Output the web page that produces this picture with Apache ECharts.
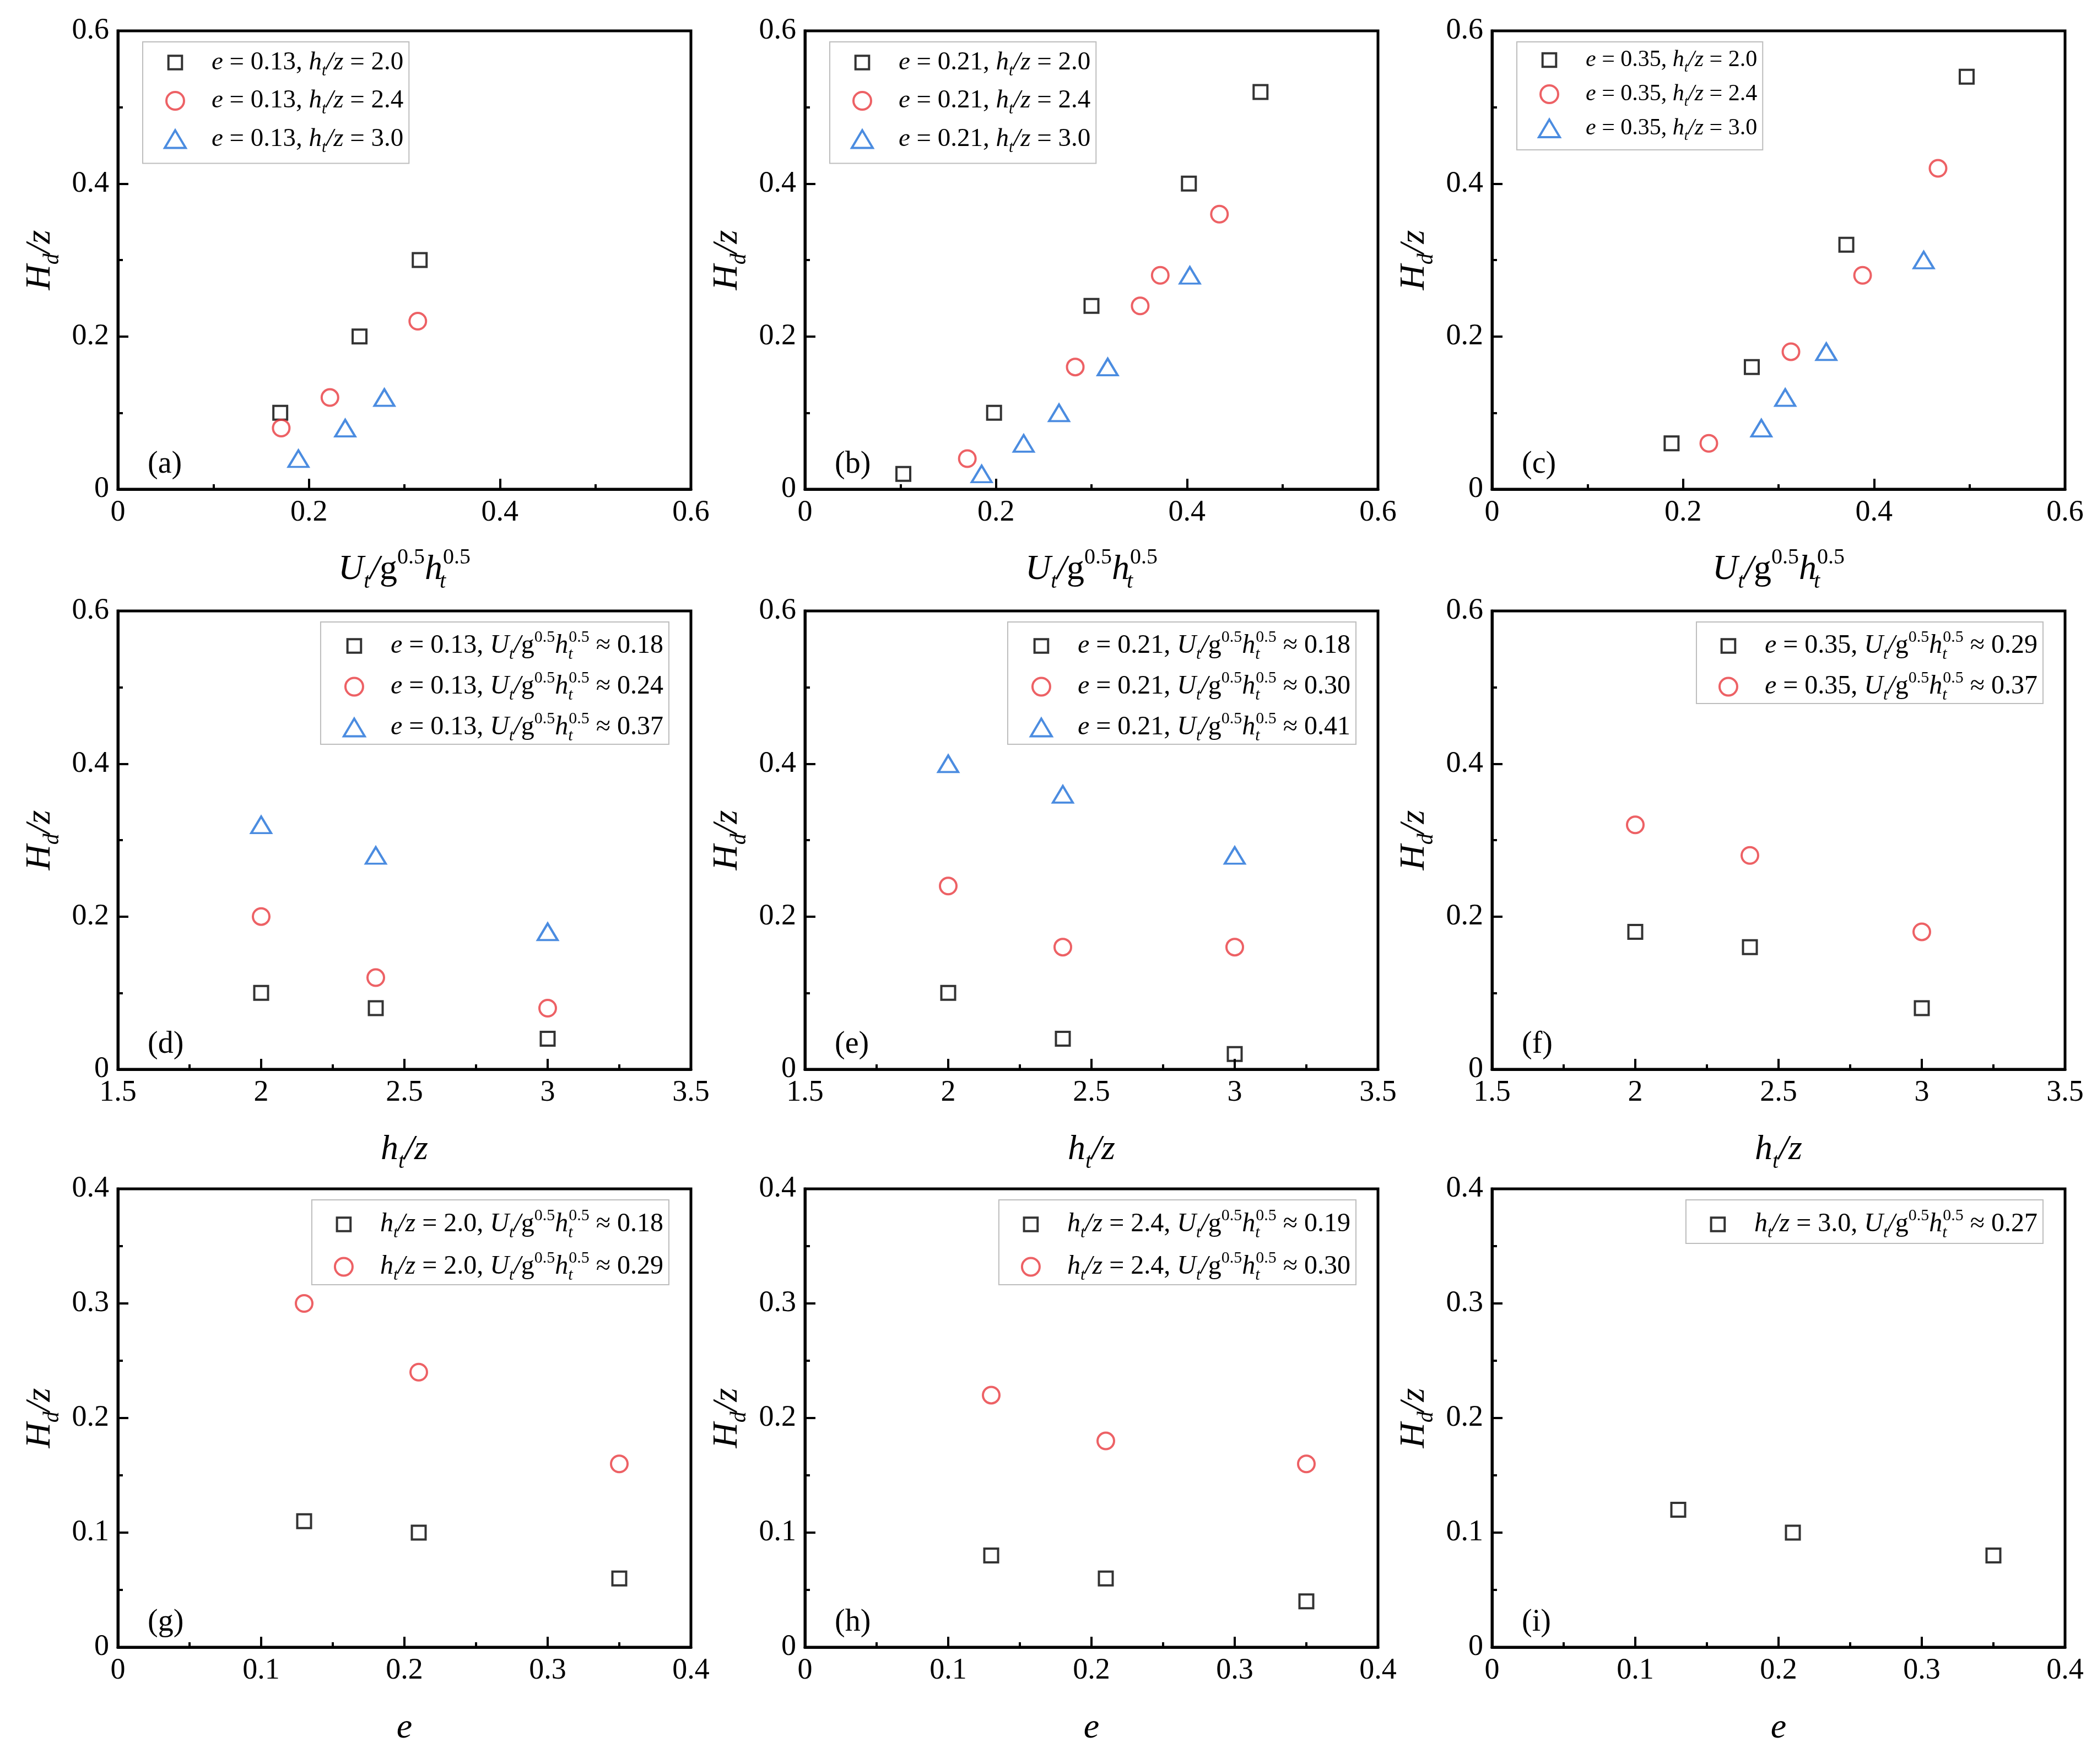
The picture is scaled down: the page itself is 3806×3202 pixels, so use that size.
<!DOCTYPE html>
<html>
<head>
<meta charset="utf-8">
<title>Hd/z panels</title>
<script src="https://cdn.jsdelivr.net/npm/echarts@6/dist/echarts.min.js"></script>
<style>
  html, body { margin: 0; padding: 0; background: #fff; }
  #main { width: 3806px; height: 3202px; }
</style>
</head>
<body>
<div id="main"></div>
<script>
var myChart = echarts.init(document.getElementById('main'));

// ---------- values ----------
// (a)-(c): x = Ut/g^0.5 ht^0.5, y = Hd/z
var aSquare   = [[0.170, 0.10], [0.253, 0.20], [0.316, 0.30]];
var aCircle   = [[0.171, 0.08], [0.222, 0.12], [0.314, 0.22]];
var aTriangle = [[0.189, 0.04], [0.238, 0.08], [0.279, 0.12]];

var bSquare   = [[0.103, 0.02], [0.198, 0.10], [0.300, 0.24], [0.402, 0.40], [0.477, 0.52]];
var bCircle   = [[0.170, 0.04], [0.283, 0.16], [0.351, 0.24], [0.372, 0.28], [0.434, 0.36]];
var bTriangle = [[0.185, 0.02], [0.229, 0.06], [0.266, 0.10], [0.317, 0.16], [0.403, 0.28]];

var cSquare   = [[0.188, 0.06], [0.272, 0.16], [0.371, 0.32], [0.497, 0.54]];
var cCircle   = [[0.227, 0.06], [0.313, 0.18], [0.388, 0.28], [0.467, 0.42]];
var cTriangle = [[0.282, 0.08], [0.307, 0.12], [0.350, 0.18], [0.452, 0.30]];

// (d)-(f): x = ht/z
var htz = [2.0, 2.4, 3.0];
var dSquare   = [0.10, 0.08, 0.04];
var dCircle   = [0.20, 0.12, 0.08];
var dTriangle = [0.32, 0.28, 0.18];
var eSquare   = [0.10, 0.04, 0.02];
var eCircle   = [0.24, 0.16, 0.16];
var eTriangle = [0.40, 0.36, 0.28];
var fSquare   = [0.18, 0.16, 0.08];
var fCircle   = [0.32, 0.28, 0.18];

// (g)-(i): x = e
var eVals = [0.13, 0.21, 0.35];
var gSquare = [0.11, 0.10, 0.06];
var gCircle = [0.30, 0.24, 0.16];
var hSquare = [0.08, 0.06, 0.04];
var hCircle = [0.22, 0.18, 0.16];
var iSquare = [0.12, 0.10, 0.08];

// legend / axis texts (rich markup: i = italic, s = subscript, k = stacked subscript, p = superscript)
var U = '{i|U}{s|t}{i|/}{n|g}{p|0.5}{i|h}{k|t}{p|0.5}';
var HT = '{i|h}{s|t}{i|/z}';
var namesA = ['{i|e} = 0.13, ' + HT + ' = 2.0', '{i|e} = 0.13, ' + HT + ' = 2.4', '{i|e} = 0.13, ' + HT + ' = 3.0'];
var namesB = ['{i|e} = 0.21, ' + HT + ' = 2.0', '{i|e} = 0.21, ' + HT + ' = 2.4', '{i|e} = 0.21, ' + HT + ' = 3.0'];
var namesC = ['{i|e} = 0.35, ' + HT + ' = 2.0', '{i|e} = 0.35, ' + HT + ' = 2.4', '{i|e} = 0.35, ' + HT + ' = 3.0'];
var namesD = ['{i|e} = 0.13, ' + U + ' ≈ 0.18', '{i|e} = 0.13, ' + U + ' ≈ 0.24', '{i|e} = 0.13, ' + U + ' ≈ 0.37'];
var namesE = ['{i|e} = 0.21, ' + U + ' ≈ 0.18', '{i|e} = 0.21, ' + U + ' ≈ 0.30', '{i|e} = 0.21, ' + U + ' ≈ 0.41'];
var namesF = ['{i|e} = 0.35, ' + U + ' ≈ 0.29', '{i|e} = 0.35, ' + U + ' ≈ 0.37'];
var namesG = [HT + ' = 2.0, ' + U + ' ≈ 0.18', HT + ' = 2.0, ' + U + ' ≈ 0.29'];
var namesH = [HT + ' = 2.4, ' + U + ' ≈ 0.19', HT + ' = 2.4, ' + U + ' ≈ 0.30'];
var namesI = [HT + ' = 3.0, ' + U + ' ≈ 0.27'];

function zip(xs, ys) {
    return xs.map(function (x, k) { return [x, ys[k]]; });
}

// ---------- layout ----------
var F = 'Liberation Serif';
var W = 3806;
var lefts = [214, 1461, 2708];
var tops = [56, 1109, 2158];
var gw = 1040, gh = 832;

var marks = [
    {symbol: 'rect', size: 25, color: '#000000', icon: 'path://M0,0M1.5,1.5L11.5,1.5L11.5,11.5L1.5,11.5ZM13,13'},
    {symbol: 'circle', size: 30, color: '#E8393E', icon: 'circle'},
    {symbol: 'triangle', size: [36, 30], color: '#1E6FD8', icon: 'triangle'}
];

var rows = [
    {xMin: 0, xMax: 0.6, xInt: 0.2, yMax: 0.6, yInt: 0.2, xName: U, nameGap: 104},
    {xMin: 1.5, xMax: 3.5, xInt: 0.5, yMax: 0.6, yInt: 0.2, xName: HT, nameGap: 104},
    {xMin: 0, xMax: 0.4, xInt: 0.1, yMax: 0.4, yInt: 0.1, xName: '{i|e}', nameGap: 105}
];

// legend box tuning per panel: padding, gap between rows
var legendBox = [
    {pad: [14, 10, 14, 38], gap: 16}, {pad: [14, 10, 14, 38], gap: 16}, {pad: [12, 10, 12, 38], gap: 14},
    {pad: [13, 10, 0, 40], gap: 13}, {pad: [13, 10, 0, 40], gap: 13}, {pad: [13, 10, 0, 40], gap: 13},
    {pad: [14, 10, 2, 40], gap: 16}, {pad: [14, 10, 2, 40], gap: 16}, {pad: [14, 10, 4, 40], gap: 16}
];

var panels = [
    {tag: '(a)', sets: [aSquare, aCircle, aTriangle], names: namesA, fs: 47},
    {tag: '(b)', sets: [bSquare, bCircle, bTriangle], names: namesB, fs: 47},
    {tag: '(c)', sets: [cSquare, cCircle, cTriangle], names: namesC, fs: 42},
    {tag: '(d)', sets: [zip(htz, dSquare), zip(htz, dCircle), zip(htz, dTriangle)], names: namesD, fs: 48},
    {tag: '(e)', sets: [zip(htz, eSquare), zip(htz, eCircle), zip(htz, eTriangle)], names: namesE, fs: 48},
    {tag: '(f)', sets: [zip(htz, fSquare), zip(htz, fCircle)], names: namesF, fs: 48},
    {tag: '(g)', sets: [zip(eVals, gSquare), zip(eVals, gCircle)], names: namesG, fs: 48},
    {tag: '(h)', sets: [zip(eVals, hSquare), zip(eVals, hCircle)], names: namesH, fs: 48},
    {tag: '(i)', sets: [zip(eVals, iSquare)], names: namesI, fs: 48}
];

function richSet(fs, lh) {
    var sm = Math.round(fs * 0.62);
    return {
        n: {fontFamily: F, fontSize: fs, lineHeight: lh, color: '#000'},
        i: {fontFamily: F, fontSize: fs, lineHeight: lh, fontStyle: 'italic', color: '#000'},
        s: {fontFamily: F, fontSize: sm, fontStyle: 'italic', verticalAlign: 'bottom', color: '#000'},
        k: {fontFamily: F, fontSize: sm, fontStyle: 'italic', verticalAlign: 'bottom', width: 1, color: '#000'},
        p: {fontFamily: F, fontSize: sm, verticalAlign: 'top', color: '#000'}
    };
}

var axisCommon = {
    type: 'value',
    axisLine: {onZero: false, lineStyle: {color: '#000', width: 5}},
    axisTick: {inside: true, length: 19, lineStyle: {color: '#000', width: 4}},
    minorTick: {show: true, splitNumber: 2, length: 9, lineStyle: {color: '#000', width: 4}},
    splitLine: {show: false},
    axisLabel: {color: '#000', fontFamily: F, fontSize: 54, margin: 16},
    nameLocation: 'middle',
    nameTextStyle: {fontFamily: F, fontSize: 64, color: '#000', rich: richSet(64, 84)}
};

var option = {
    animation: false,
    backgroundColor: '#fff',
    textStyle: {fontFamily: F},
    grid: [], xAxis: [], yAxis: [], legend: [], title: [], series: []
};

panels.forEach(function (p, k) {
    var r = Math.floor(k / 3), c = k % 3;
    var ax = rows[r];
    var gl = lefts[c], gt = tops[r];
    var lh = Math.round(p.fs * 1.28);
    var box = legendBox[k];

    option.grid.push({
        left: gl, top: gt, width: gw, height: gh,
        show: true, borderColor: '#000', borderWidth: 5,
        outerBoundsMode: 'none'
    });
    option.xAxis.push(Object.assign({}, axisCommon, {
        gridIndex: k, min: ax.xMin, max: ax.xMax, interval: ax.xInt,
        name: ax.xName, nameGap: ax.nameGap
    }));
    option.yAxis.push(Object.assign({}, axisCommon, {
        gridIndex: k, min: 0, max: ax.yMax, interval: ax.yInt,
        name: '{i|H}{s|d}{i|/z}', nameGap: 99, nameRotate: 90
    }));

    var lg = {
        orient: 'vertical',
        top: gt + 20,
        padding: box.pad,
        itemGap: box.gap,
        itemWidth: 38, itemHeight: 32,
        borderColor: '#bdbdbd', borderWidth: 2,
        backgroundColor: '#fff',
        selectedMode: false,
        itemStyle: {borderWidth: 4},
        textStyle: {fontFamily: F, fontSize: p.fs, color: '#000', padding: [0, 0, 0, 42],
            rich: richSet(p.fs, lh)},
        data: p.names.map(function (nm, j) { return {name: nm, icon: marks[j].icon}; })
    };
    if (r === 0) lg.left = gl + 45; else lg.right = W - (gl + gw - 40);
    option.legend.push(lg);

    option.title.push({
        text: p.tag, left: gl + 54, top: gt + gh - 73, padding: 0,
        textStyle: {fontFamily: F, fontSize: 56, fontWeight: 'normal', color: '#000'}
    });

    p.sets.forEach(function (d, j) {
        var m = marks[j];
        option.series.push({
            type: 'scatter', name: p.names[j],
            xAxisIndex: k, yAxisIndex: k,
            symbol: m.symbol, symbolSize: m.size,
            itemStyle: {color: 'rgba(0,0,0,0)', borderColor: m.color, borderWidth: 4},
            emphasis: {disabled: true},
            data: d
        });
    });
});

myChart.setOption(option);
</script>
</body>
</html>
